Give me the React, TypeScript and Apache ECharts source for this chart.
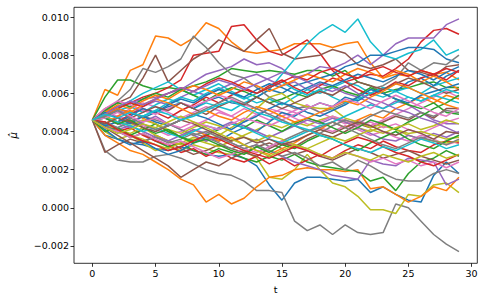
import React, { useEffect, useRef } from "react";
import * as echarts from "echarts";

// time steps (x values)
const T_STEPS = [0,1,2,3,4,5,6,7,8,9,10,11,12,13,14,15,16,17,18,19,20,21,22,23,24,25,26,27,28,29];
const X_TICKS = [0, 5, 10, 15, 20, 25, 30];
const Y_TICKS = [-0.002, 0, 0.002, 0.004, 0.006, 0.008, 0.01];
// values below are stored in units of 1e-4
const UNIT = 1e-4;

const COLORS = ["#1f77b4","#ff7f0e","#2ca02c","#d62728","#9467bd","#8c564b","#e377c2","#7f7f7f","#bcbd22","#17becf"];

const BLUE = [
  [46,38,36,34,33,31,30,32,30,28,27,28,26,22,12,4,13,16,16,15,14,15,8,11,7,4,3,17,24,18],
  [46,48,52,50,47,50,53,55,52,56,58,55,54,58,62,60,64,66,68,70,74,76,80,80,82,84,84,83,78,76],
  [46,41,36,33,35,31,28,30,34,37,35,39,42,40,45,50,48,52,55,53,58,56,60,63,61,66,68,64,69,72],
  [46,43,45,48,52,50,54,57,55,59,62,60,58,62,65,63,60,63,66,64,67,70,68,66,69,72,70,67,71,74],
  [46,50,47,44,48,45,43,46,49,47,44,41,45,48,52,55,53,50,48,51,54,58,62,60,57,55,59,61,63,65],
];
const ORANGE = [
  [46,62,59,72,75,90,89,85,89,97,94,87,82,81,82,83,86,86,86,84,86,87,76,68,70,69,72,70,71,67],
  [46,38,34,30,28,24,20,15,12,3,7,2,5,11,16,17,20,21,20,20,19,20,10,11,7,3,6,11,9,16],
  [46,44,48,51,47,44,40,37,41,38,35,37,33,30,28,31,34,38,41,45,42,46,49,47,52,55,58,55,59,57],
  [46,50,54,52,56,59,57,61,64,62,59,62,66,64,61,64,67,70,68,66,70,73,71,68,72,70,66,69,66,62],
  [46,49,52,50,54,57,55,52,49,51,48,46,50,53,51,48,45,47,50,53,56,54,58,61,65,63,60,57,54,52],
];
const GREEN = [
  [46,58,67,67,64,62,63,62,64,66,69,73,72,71,72,71,70,72,72,69,72,66,64,60,62,63,65,66,63,63],
  [46,44,40,37,39,35,32,34,30,28,31,29,26,24,27,25,28,24,22,21,20,19,14,16,9,18,24,26,30,27],
  [46,51,55,53,57,60,58,62,59,56,60,63,61,58,55,57,60,58,62,64,61,59,63,60,57,54,52,55,50,49],
  [46,40,42,38,41,44,40,37,35,38,41,44,42,46,43,40,44,47,45,42,39,42,46,44,41,45,48,52,55,59],
  [46,47,44,46,42,39,41,37,34,36,33,30,28,32,29,33,31,35,38,36,33,30,34,37,40,36,33,31,35,38],
];
const RED = [
  [46,50,53,55,58,60,63,67,80,81,82,95,96,88,82,80,84,88,81,72,66,68,70,69,73,78,87,93,94,91],
  [46,43,40,42,38,35,33,29,31,27,30,26,24,27,23,26,22,25,28,26,30,33,31,35,32,30,29,33,35,34],
  [46,48,45,49,52,50,47,51,54,58,55,59,62,60,64,67,63,60,64,68,66,62,59,62,66,64,68,70,67,72],
  [46,49,52,55,53,57,60,63,61,65,68,66,63,60,63,66,69,67,71,73,70,68,72,74,71,69,72,70,73,71],
  [46,45,41,38,35,33,30,32,35,38,36,33,30,28,26,29,32,30,27,31,34,37,35,32,29,27,24,22,25,28],
];
const PURPLE = [
  [46,50,52,55,57,58,60,62,66,70,72,74,78,75,76,73,68,70,74,73,76,80,75,80,86,89,89,89,96,99],
  [46,48,51,49,53,56,54,58,61,59,62,65,68,70,67,64,66,62,65,63,60,58,55,52,56,54,50,46,44,44],
  [46,44,41,43,40,37,35,38,41,39,42,45,43,40,37,40,43,46,44,47,45,42,39,36,35,38,36,39,37,40],
  [46,47,44,42,45,48,44,41,38,35,37,34,31,33,30,27,24,22,20,17,16,15,25,23,22,26,25,24,12,15],
  [46,49,53,56,54,57,60,63,61,64,67,65,62,65,68,71,69,66,63,61,64,60,57,55,52,50,47,45,42,39],
];
const BROWN = [
  [46,52,55,58,68,80,66,72,78,82,88,85,82,88,94,81,78,79,80,83,81,75,73,75,78,72,71,69,74,75],
  [46,29,33,36,34,38,35,31,28,30,33,31,29,32,34,31,28,30,27,25,28,31,29,26,28,30,27,25,23,25],
  [46,42,38,34,30,26,22,16,20,24,22,26,29,27,31,34,32,36,39,37,40,44,42,45,48,46,50,47,52,52],
  [46,48,44,47,50,53,51,55,52,49,53,56,54,58,55,52,55,58,61,59,63,66,64,62,65,68,66,63,60,62],
  [46,44,47,45,42,40,43,46,44,41,38,35,37,34,36,33,35,38,41,39,42,45,43,40,38,41,39,36,40,39],
];
const PINK = [
  [46,50,48,52,55,53,50,47,50,53,51,48,52,49,46,48,51,54,50,47,44,46,43,46,49,52,55,58,61,58],
  [46,44,48,46,43,41,38,40,43,46,50,48,45,49,52,50,47,44,42,40,43,41,38,40,37,35,38,36,33,35],
  [46,52,56,54,51,49,52,55,53,56,59,57,54,52,49,52,50,47,45,48,46,43,45,42,44,41,39,42,45,47],
  [46,42,40,37,39,36,33,35,32,29,26,28,31,29,32,35,33,30,28,26,29,27,24,26,23,25,22,24,21,24],
  [46,47,50,48,45,47,44,42,45,43,41,44,47,45,43,46,49,52,55,53,57,55,52,56,59,56,53,50,48,52],
];
const GRAY = [
  [46,30,25,24,24,27,28,26,23,20,18,17,14,9,9,8,-7,-12,-9,-14,-9,-13,-14,-13,2,0,-7,-14,-19,-23],
  [46,50,56,62,73,71,74,78,90,84,76,70,68,63,58,55,52,53,50,52,55,58,62,64,68,76,72,76,75,80],
  [46,43,40,38,35,37,34,36,39,37,34,31,33,36,32,35,38,41,39,43,46,44,48,51,49,47,50,48,51,50],
  [46,45,42,45,48,46,44,41,38,40,37,34,31,33,30,27,29,26,22,24,20,25,22,18,15,14,14,18,20,18],
  [46,48,51,47,44,41,43,46,49,52,55,58,55,52,49,46,43,40,42,45,42,39,36,33,31,34,37,35,33,36],
];
const OLIVE = [
  [46,40,36,38,34,30,32,30,33,31,29,28,30,26,16,15,20,28,20,13,11,6,-1,-1,-3,7,6,12,13,8],
  [46,44,41,39,42,38,35,33,36,34,32,35,38,41,44,42,45,43,46,48,45,42,40,43,41,38,36,35,34,35],
  [46,44,41,38,36,33,31,34,37,35,38,42,46,52,58,60,55,53,52,52,47,45,42,44,41,39,40,38,36,37],
  [46,48,45,43,46,44,41,39,42,45,43,40,37,35,38,36,33,31,34,37,35,38,41,39,42,44,41,43,46,44],
  [46,42,39,41,44,42,45,48,45,42,39,36,33,30,27,30,33,31,28,26,29,27,25,28,26,24,27,29,26,28],
];
const CYAN = [
  [46,48,51,53,50,54,57,55,52,55,53,51,55,58,62,70,78,86,92,96,92,99,87,80,78,81,83,88,80,83],
  [46,48,52,56,60,63,66,62,59,62,65,61,58,55,57,54,58,62,60,63,66,64,60,58,61,63,60,64,66,68],
  [46,44,42,45,48,51,55,58,56,60,63,60,57,60,63,66,62,59,62,58,55,57,60,63,61,58,56,59,57,55],
  [46,47,45,43,40,42,39,37,40,43,41,44,42,39,36,34,37,40,43,45,48,51,54,52,55,58,56,59,62,60],
  [46,49,47,50,48,51,49,46,48,51,54,56,53,50,48,45,43,41,38,36,33,31,29,32,30,33,36,34,31,33],
];

const RUNS_BY_COLOR = [BLUE, ORANGE, GREEN, RED, PURPLE, BROWN, PINK, GRAY, OLIVE, CYAN];

const FONT = "DejaVu Sans";

export default function App() {
  const ref = useRef<HTMLDivElement>(null);
  useEffect(() => {
    if (!ref.current) return;
    const chart = echarts.init(ref.current, undefined, { renderer: "svg" });
    const series: any[] = [];
    const nRuns = RUNS_BY_COLOR[0].length;
    for (let j = 0; j < nRuns; j++) {
      for (let c = 0; c < RUNS_BY_COLOR.length; c++) {
        const run = RUNS_BY_COLOR[c][j];
        series.push({
          type: "line",
          data: T_STEPS.map((t, i) => [t, run[i] * UNIT]),
          showSymbol: false,
          symbol: "none",
          silent: true,
          lineStyle: { color: COLORS[c], width: 1.5 },
          itemStyle: { color: COLORS[c] },
          z: 2,
        });
      }
    }
    const fmt = (v: number) => {
      const s = Math.abs(v) < 1e-12 ? "0.000" : v.toFixed(3);
      return s.replace("-", "\u2212");
    };
    chart.setOption({
      animation: false,
      grid: {
        left: 72.7,
        right: 7.7,
        top: 7.3,
        bottom: 37.7,
        show: true,
        borderColor: "#000",
        borderWidth: 0.8,
        backgroundColor: "transparent",
      },
      xAxis: {
        type: "value",
        min: -1.45,
        max: 30.45,
        name: "t",
        nameLocation: "middle",
        nameGap: 21,
        nameTextStyle: { fontFamily: FONT, fontSize: 9.5, color: "#000" },
        axisLine: { show: false, onZero: false },
        splitLine: { show: false },
        axisTick: {
          show: true,
          customValues: X_TICKS,
          length: 3.5,
          inside: false,
          lineStyle: { color: "#000", width: 0.8 },
        },
        axisLabel: {
          customValues: X_TICKS,
          formatter: (v: number) => String(Math.round(v)),
          fontFamily: FONT,
          fontSize: 9.5,
          color: "#000",
          margin: 5,
        },
      },
      yAxis: {
        type: "value",
        min: -0.00291,
        max: 0.01051,
        name: "\u03bc\u0302",
        nameLocation: "middle",
        nameGap: 56,
        nameRotate: 90,
        nameTextStyle: { fontFamily: FONT, fontSize: 10, fontStyle: "italic", color: "#000" },
        axisLine: { show: false, onZero: false },
        splitLine: { show: false },
        axisTick: {
          show: true,
          customValues: Y_TICKS,
          length: 3.5,
          inside: false,
          lineStyle: { color: "#000", width: 0.8 },
        },
        axisLabel: {
          customValues: Y_TICKS,
          formatter: fmt,
          fontFamily: FONT,
          fontSize: 9.5,
          color: "#000",
          margin: 5,
        },
      },
      series,
    });
    return () => chart.dispose();
  }, []);
  return (
    <div
      ref={ref}
      style={{ position: "fixed", left: 0, top: 0, width: 485, height: 301, background: "#fff" }}
    />
  );
}
